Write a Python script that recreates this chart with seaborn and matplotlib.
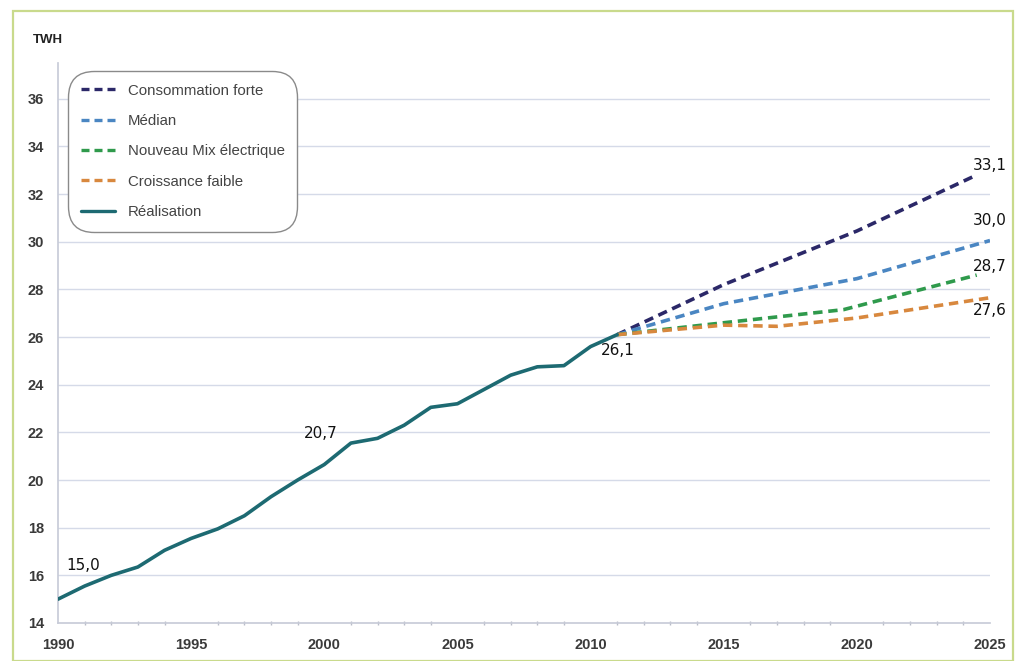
import matplotlib
matplotlib.use("Agg")
import matplotlib.pyplot as plt
from matplotlib.patches import Rectangle
from matplotlib.lines import Line2D
import seaborn as sns
import pandas as pd

# ---- data ----
real_years = list(range(1990, 2012))
real_vals = [15.0, 15.55, 16.0, 16.35, 17.05, 17.55, 17.95, 18.5, 19.3, 20.0, 20.65,
             21.55, 21.75, 22.3, 23.05, 23.2, 23.8, 24.4, 24.75, 24.8, 25.6, 26.1]

forte_years = [2011, 2015, 2020, 2024.5]
forte_vals = [26.1, 28.2, 30.45, 32.8]
median_years = [2011, 2015, 2020, 2025]
median_vals = [26.1, 27.4, 28.45, 30.05]
mix_years = [2011, 2015, 2019.5, 2024.5]
mix_vals = [26.1, 26.6, 27.15, 28.6]
faible_years = [2011, 2015, 2017, 2020, 2025]
faible_vals = [26.1, 26.5, 26.45, 26.8, 27.65]

annot_labels = ["15,0", "20,7", "26,1", "33,1", "30,0", "28,7", "27,6"]

series_names = ["Consommation forte", "Médian", "Nouveau Mix électrique",
                "Croissance faible", "Réalisation"]
colors = ["#2b2868", "#4a86c2", "#2f9a4c", "#d8883e", "#1d6a72"]

sns.set_theme(style="white")
plt.rcParams["font.family"] = ["Liberation Sans", "DejaVu Sans"]

fig = plt.figure(figsize=(10.16, 6.61), dpi=100)
ax = fig.add_axes([58 / 1016, 38 / 661, (990 - 58) / 1016, (623 - 63) / 661])

proj = [(forte_years, forte_vals), (median_years, median_vals),
        (mix_years, mix_vals), (faible_years, faible_vals)]
for (yrs, vals), name, col in zip(proj, series_names[:4], colors[:4]):
    df = pd.DataFrame({"year": yrs, "val": vals})
    sns.lineplot(data=df, x="year", y="val", ax=ax, color=col, lw=2.6,
                 dashes=False, zorder=3)
    ax.lines[-1].set_dashes((2.6, 1.6))

df_r = pd.DataFrame({"year": real_years, "val": real_vals})
sns.lineplot(data=df_r, x="year", y="val", ax=ax, color=colors[4], lw=2.6, zorder=4)

ax.set_xlim(1990, 2025)
ax.set_ylim(14, 37.5)
ax.set_xticks(range(1990, 2026, 5))
ax.set_xticks(range(1990, 2026, 1), minor=True)
ax.set_yticks(range(14, 37, 2))
ax.set_xlabel("")
ax.set_ylabel("")
for y in range(16, 37, 2):
    ax.axhline(y, color="#d5dae8", lw=1.0, zorder=1)
for s in ["top", "right"]:
    ax.spines[s].set_visible(False)
ax.spines["left"].set_color("#c8ccd8")
ax.spines["bottom"].set_color("#c8ccd8")
ax.tick_params(axis="x", which="major", length=4, color="#b8bcc8",
               labelsize=10.5, labelcolor="#3a3a3a", direction="inout", pad=9)
ax.tick_params(axis="y", which="major", length=4, color="#b8bcc8",
               labelsize=10.5, labelcolor="#3a3a3a", direction="inout", pad=8)
ax.tick_params(axis="x", which="minor", length=3, color="#b8bcc8", direction="inout",
               bottom=True)
for lab in ax.get_xticklabels() + ax.get_yticklabels():
    lab.set_fontweight("bold")

fig.text(33 / 1016, 1 - 40 / 661, "TWH", fontsize=9.5, fontweight="bold",
         color="#222222", va="center", ha="left")

# annotations
ann_pos = [(1990.3, 16.4), (1999.25, 21.95), (2010.4, 25.45),
           (2024.35, 33.2), (2024.35, 30.9), (2024.35, 28.95), (2024.35, 27.1)]
for (x, y), t in zip(ann_pos, annot_labels):
    ax.text(x, y, t, fontsize=11, color="#111111", ha="left", va="center",
            family="DejaVu Sans", zorder=6)

# legend
handles = []
for name, col in zip(series_names, colors):
    if name == "Réalisation":
        handles.append(Line2D([0], [0], color=col, lw=2.4))
    else:
        handles.append(Line2D([0], [0], color=col, lw=2.4, dashes=(2.4, 1.5)))
leg = ax.legend(handles, series_names, loc="upper left",
                bbox_to_anchor=(14 / 932, 1 - 12 / 560), frameon=True,
                fontsize=10.8, labelcolor="#444444", handlelength=2.27,
                handletextpad=0.87, labelspacing=1.09, borderpad=0.58,
                borderaxespad=0.0,
                fancybox=True, edgecolor="#8a8a8a", framealpha=1)
leg.get_frame().set_boxstyle("round", pad=0.25, rounding_size=1.7)
leg.get_frame().set_linewidth(1.0)

# outer frame
fig.patches.append(Rectangle((13 / 1016, 0), 1000 / 1016, 650 / 661,
                             transform=fig.transFigure, fill=False,
                             edgecolor="#c9da8c", lw=1.6))

fig.savefig("out.png", dpi=100)
